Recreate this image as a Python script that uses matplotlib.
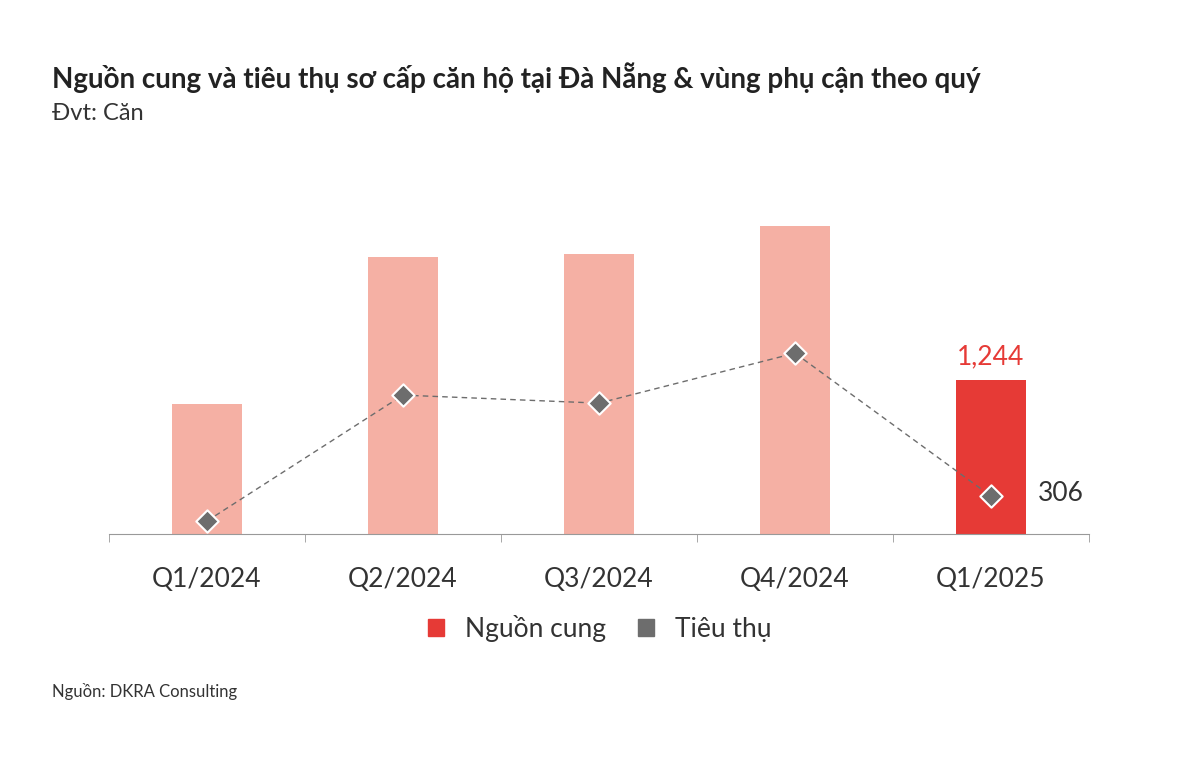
import matplotlib
matplotlib.use("Agg")
import matplotlib.pyplot as plt
from matplotlib.patches import Patch

categories = ["Q1/2024", "Q2/2024", "Q3/2024", "Q4/2024", "Q1/2025"]
supply = [1050, 2238, 2262, 2488, 1244]
sales = [105, 1123, 1058, 1462, 306]

plt.rcParams["font.family"] = "Lato"
fig = plt.figure(figsize=(12, 7.58), dpi=100)
ax = fig.add_axes([0.0908, 0.2955, 0.8167, 0.4406])
x = list(range(len(categories)))
colors = ["#F5B0A4"] * 4 + ["#E63A36"]
ax.bar(x, supply, width=0.357, color=colors, zorder=1)
ax.plot(x, sales, linestyle=(0, (4, 3)), color="#6d6d6d", lw=1, zorder=2)
ax.scatter(x, sales, marker="D", s=130, color="#6d6d6d", edgecolor="white", linewidth=1.5, zorder=3)
ax.text(x[-1], supply[-1] + 90, f"{supply[-1]:,}", ha="center", va="bottom", color="#E63A36", fontsize=19)
ax.text(x[-1] + 0.24, sales[-1] + 20, f"{sales[-1]}", ha="left", va="center", color="#333333", fontsize=19)
ax.set_xlim(-0.5, 4.5)
ax.set_ylim(0, 2700)
ax.set_yticks([])
for s in ["top", "right", "left"]:
    ax.spines[s].set_visible(False)
ax.spines["bottom"].set_color("#999999")
ax.set_xticks(x)
ax.set_xticklabels(categories, fontsize=19, color="#333333")
ax.tick_params(axis="x", length=0, pad=24)
ax.set_xticks([-0.5, 0.5, 1.5, 2.5, 3.5, 4.5], minor=True)
ax.tick_params(axis="x", which="minor", length=6, color="#999999")

handles = [Patch(color="#E63A36", label="Nguồn cung"), Patch(color="#6d6d6d", label="Tiêu thụ")]
fig.legend(handles=handles, loc="center", bbox_to_anchor=(0.5, 1 - 628 / 758), ncol=2, frameon=False,
           fontsize=19, handlelength=0.6, handleheight=0.6, columnspacing=1.2, handletextpad=0.8,
           labelcolor="#333333")

fig.text(52 / 1200, 1 - 78 / 758, "Nguồn cung và tiêu thụ sơ cấp căn hộ tại Đà Nẵng & vùng phụ cận theo quý",
         fontsize=20, fontweight="bold", color="#222222", va="center")
fig.text(52 / 1200, 1 - 113 / 758, "Đvt: Căn", fontsize=17, color="#333333", va="center")
fig.text(52 / 1200, 1 - 692 / 758, "Nguồn: DKRA Consulting", fontsize=12, color="#333333", va="center")
fig.savefig("out.png", dpi=100, facecolor="white")
